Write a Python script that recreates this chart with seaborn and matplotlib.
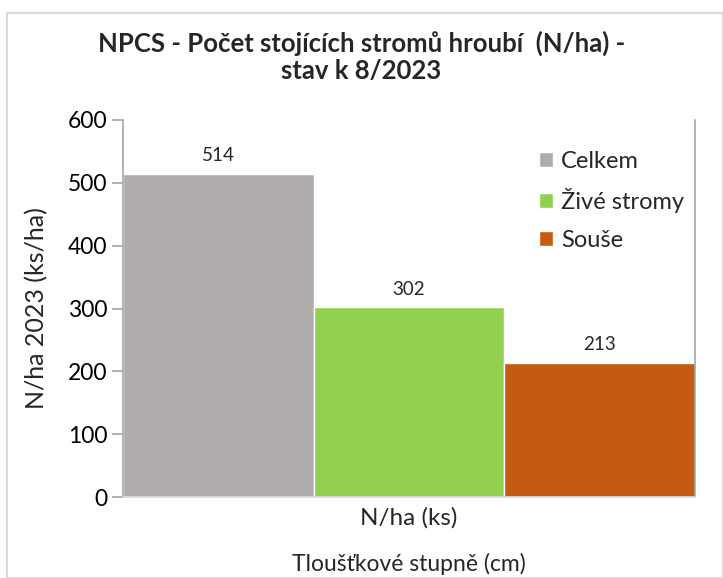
import matplotlib
matplotlib.use("Agg")
import matplotlib.pyplot as plt
import seaborn as sns
import pandas as pd
from matplotlib.patches import Rectangle

categories = ["N/ha (ks)"]
series = ["Celkem", "Živé stromy", "Souše"]
values = [514, 302, 213]
colors = ["#B0ACAB", "#92D050", "#C55A11"]
yticks = [0, 100, 200, 300, 400, 500, 600]

sns.set_theme(style="white")
plt.rcParams["font.family"] = ["Lato", "DejaVu Sans"]

df = pd.DataFrame({"cat": categories * len(series), "series": series, "val": values})

fig = plt.figure(figsize=(7.23, 5.78), dpi=100)
ax = fig.add_axes([123 / 723, 1 - 497 / 578, (695 - 123) / 723, (497 - 120) / 578])

sns.barplot(data=df, x="cat", y="val", hue="series", palette=colors, width=1.0,
            dodge=True, ax=ax, legend=True, saturation=1)
ax.set_xlim(-0.5, 0.5)
ax.set_ylim(0, 600)
ax.set_yticks(yticks)
ax.tick_params(axis="y", labelsize=16.5, length=8, color="#A6A6A6", left=True, pad=3, labelcolor="black")
ax.tick_params(axis="x", labelsize=17.5, length=0, pad=7)
for c in ax.containers:
    ax.bar_label(c, fmt="%d", padding=7, fontsize=13.5)

for s in ["left", "right"]:
    ax.spines[s].set_color("#A6A6A6")
    ax.spines[s].set_linewidth(1.2)
ax.spines["bottom"].set_color("#D9D9D9")
ax.spines["top"].set_visible(False)

ax.set_ylabel("N/ha 2023 (ks/ha)", fontsize=18, labelpad=14)
ax.set_xlabel("Tloušťkové stupně (cm)", fontsize=16.5, labelpad=18)

leg = ax.legend(loc="upper left", bbox_to_anchor=(0.69, 0.975), frameon=False, fontsize=17,
                handlelength=0.6, handleheight=0.6, handletextpad=0.35, labelspacing=0.7)

fig.text(0.5, 1 - 57 / 578, "NPCS - Počet stojících stromů hroubí  (N/ha) -\nstav k 8/2023",
         ha="center", va="center", fontsize=18.5, fontweight="bold", linespacing=1.15)

fig.patches.append(Rectangle((7 / 723, 0), 1 - 7 / 723, 1 - 13 / 578, transform=fig.transFigure,
                             fill=False, edgecolor="#D9D9D9", linewidth=1.5))

fig.savefig("out.png", dpi=100)
